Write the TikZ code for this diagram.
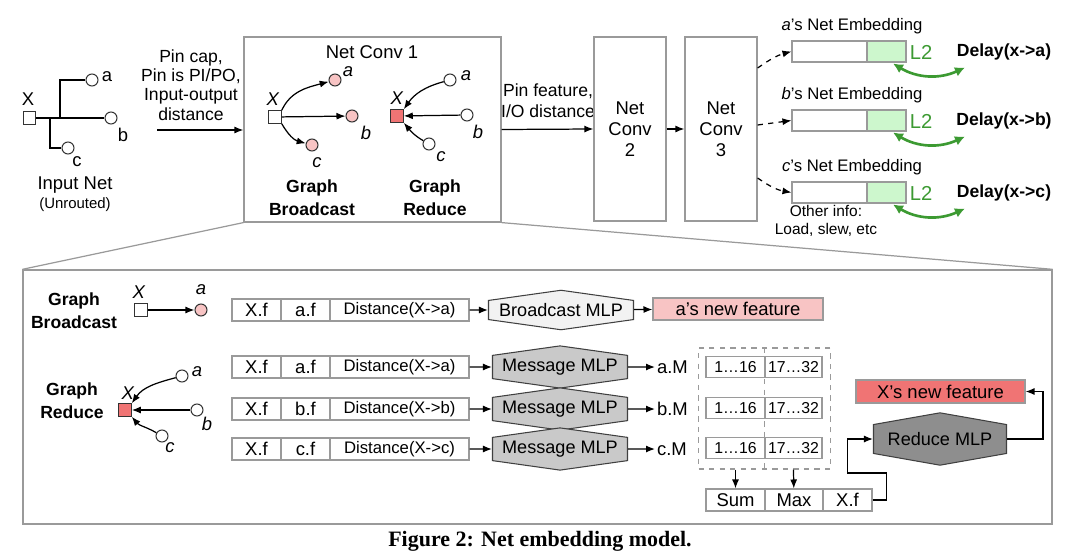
\documentclass[tikz,border=0pt]{standalone}
\usepackage{fontspec}
\setmainfont{Liberation Sans}
\newfontfamily\capfont{Liberation Serif}
\usepackage{tikz}
\usetikzlibrary{arrows.meta,positioning,shapes.symbols,calc}
\definecolor{boxline}{HTML}{9A9A9A}
\definecolor{pinkfill}{HTML}{F8C4C4}
\definecolor{redfill}{HTML}{F07474}
\definecolor{greenfill}{HTML}{CDF7CD}
\definecolor{greenline}{HTML}{3C9A32}
\definecolor{mlplight}{HTML}{F2F2F2}
\definecolor{mlpmid}{HTML}{C9C9C9}
\definecolor{mlpdark}{HTML}{8E8E8E}
\tikzset{
  nconv/.style={draw=boxline,line width=0.7pt,align=center,fill=white},
  ncell/.style={draw=boxline,fill=white,line width=0.6pt,minimum height=0.44cm,inner sep=1pt,font=\fontsize{10.5}{12}\selectfont},
  nsmall/.style={ncell,minimum height=0.42cm,font=\fontsize{9}{11}\selectfont},
  nmlp/.style={signal,signal to=north and south,signal pointer angle=164,draw=black!75,line width=0.6pt,inner sep=1pt,font=\fontsize{10.3}{12}\selectfont},
  npin/.style={circle,draw=black!80,fill=white,line width=0.6pt,minimum size=0.24cm,inner sep=0pt},
  nsq/.style={rectangle,draw=black!80,fill=white,line width=0.6pt,minimum size=0.25cm,inner sep=0pt},
  nlab/.style={inner sep=1pt,font=\fontsize{10.5}{12}\selectfont},
  nbold/.style={align=center,font=\bfseries\fontsize{10}{13}\selectfont},
  narr/.style={-{Latex[length=1.8mm,width=1.4mm]},line width=0.7pt},
  ndash/.style={-{Latex[length=1.8mm,width=1.4mm]},dashed,line width=0.7pt},
  ngreen/.style={{Latex[length=2mm,width=2mm]}-{Latex[length=2mm,width=2mm]},draw=greenline,line width=1.5pt}
}
\begin{document}
\begin{tikzpicture}[x=0.02cm,y=-0.02cm,font=\fontsize{10}{12}\selectfont]
  \useasboundingbox (0,0) rectangle (1080,558);
  % input net
  \node[nsq] (x0) at (29.5,118) {};
  \node[npin] (a0) at (92,80) {};
  \node[npin] (b0) at (111,118) {};
  \node[npin] (c0) at (68,148) {};
  \coordinate (j1) at (50,118);
  \coordinate (j2) at (60,118);
  \draw[line width=0.6pt] (x0.east) -- (b0.west);
  \draw[line width=0.6pt] (j1) |- (c0.west);
  \draw[line width=0.6pt] (j2) |- (a0.west);
  \node[nlab] (x0l) at (28,99) {X};
  \node[nlab] (a0l) at (107,77) {a};
  \node[nlab] (b0l) at (123,135) {b};
  \node[nlab] (c0l) at (77,162) {c};
  \node[nlab] (inet) at (75,185) {Input Net};
  \node[font=\fontsize{8.5}{10}\selectfont] (unr) at (75,205) {(Unrouted)};
  \node[align=center,font=\fontsize{10}{11}\selectfont] (pinf) at (191,85) {Pin cap,\\Pin is PI/PO,\\Input-output\\distance};
  \coordinate (pinin) at (157,130);
  % net conv 1
  \node[nconv,minimum width=5.14cm,minimum height=3.7cm] (conv1) at (372.5,129.5) {};
  \draw[narr] (pinin) -- (pinin -| conv1.west);
  \node[font=\fontsize{10.5}{12}\selectfont] (c1t) at (372,52) {Net Conv 1};
  \node[nsq] (xb) at (275,117) {};
  \node[npin,fill=pinkfill] (ab) at (335,80) {};
  \node[npin,fill=pinkfill] (bb) at (352,116) {};
  \node[npin,fill=pinkfill] (cb) at (312,145) {};
  \draw[narr] (xb.north east) to[out=65,in=195] (ab);
  \draw[narr] (xb) -- (bb);
  \draw[narr] (xb.south east) to[out=-60,in=165] (cb);
  \node[nlab] (xbl) at (273,99) {\textit{X}};
  \node[nlab] (abl) at (348,72) {\textit{a}};
  \node[nlab] (bbl) at (366,133) {\textit{b}};
  \node[nlab] (cbl) at (317,163) {\textit{c}};
  \node[nsq,fill=redfill] (xr) at (397,116) {};
  \node[npin] (ar) at (450,80) {};
  \node[npin] (br) at (467,115) {};
  \node[npin] (cr) at (429,144) {};
  \draw[narr] (ar) to[out=195,in=55] (xr.north east);
  \draw[narr] (br) -- (xr);
  \draw[narr] (cr) to[out=150,in=-50] (xr.south east);
  \node[nlab] (xrl) at (397,98) {\textit{X}};
  \node[nlab] (arl) at (466,76) {\textit{a}};
  \node[nlab] (brl) at (478,132) {\textit{b}};
  \node[nlab] (crl) at (441,157) {\textit{c}};
  \node[nbold] (gb) at (312,198) {Graph\\Broadcast};
  \node[nbold] (gr) at (435,198) {Graph\\Reduce};
  % net conv 2 and 3
  \node[align=center] (pfeat) at (548,101) {Pin feature,\\I/O distance};
  \node[nconv,minimum width=1.44cm,minimum height=3.68cm,font=\fontsize{10.5}{12}\selectfont] (conv2) at (630,129) {Net\\Conv\\2};
  \node[nconv,minimum width=1.44cm,minimum height=3.68cm,font=\fontsize{10.5}{12}\selectfont] (conv3) at (721,129) {Net\\Conv\\3};
  \draw[narr] (conv1.east) -- (conv2.west);
  \draw[narr] (conv2) -- (conv3);
  % net embeddings
  \foreach \nm/\y/\p in {ea/51.5/a, eb/120.5/b, ec/192.5/c}{
    \node[draw=boxline,fill=white,line width=0.6pt,minimum width=1.5cm,minimum height=0.42cm] (\nm) at (829.5,\y) {};
    \node[draw=boxline,fill=greenfill,line width=0.6pt,minimum width=0.78cm,minimum height=0.42cm] (\nm-g) at (886.5,\y) {};
    \node[font=\fontsize{9.5}{11}\selectfont] (\nm-t) at (852,\y-25) {\textit{\p}’s Net Embedding};
    \node[text=greenline,font=\fontsize{11.5}{13}\selectfont] (\nm-l) at (921,\y+1) {L2};
    \node[nbold] (\nm-d) at (1004,\y) {Delay(x->\p)};
    \coordinate (\nm-s) at (893,\y+12);
    \coordinate (\nm-e) at (965,\y+16);
    \draw[ngreen] (\nm-s) to[bend right=28] (\nm-e);
  }
  \draw[ndash] ([yshift=1.22cm]conv3.east) to[out=35,in=195] (ea.west);
  \draw[ndash] ([yshift=0.08cm]conv3.east) -- (eb.west);
  \draw[ndash] ([yshift=-0.98cm]conv3.east) to[out=-35,in=170] (ec.west);
  \node[align=center,font=\fontsize{8.8}{10.5}\selectfont] (oinfo) at (826,221) {Other info:\\Load, slew, etc};
  % zoomed view
  \node[draw=boxline,line width=0.8pt,minimum width=20.58cm,minimum height=5.08cm] (zoom) at (537.5,397) {};
  \draw[draw=boxline,line width=0.7pt] (conv1.south west) -- (zoom.north west);
  \draw[draw=boxline,line width=0.7pt] (conv1.south east) -- (zoom.north east);
  \node[nbold] (gb2) at (74,311) {Graph\\Broadcast};
  \node[nbold] (gr2) at (72,401) {Graph\\Reduce};
  \node[nsq] (xs) at (141,310) {};
  \node[npin,fill=pinkfill] (as) at (201,310) {};
  \draw[narr] (xs) -- (as);
  \node[nlab] (xsl) at (139,292) {\textit{X}};
  \node[nlab] (asl) at (201,290) {\textit{a}};
  \node[nsq,fill=redfill] (xq) at (125,410) {};
  \node[npin] (aq) at (182,376) {};
  \node[npin] (bq) at (197,410) {};
  \node[npin] (cq) at (162,436) {};
  \draw[narr] (aq) to[out=195,in=55] (xq.north east);
  \draw[narr] (bq) -- (xq);
  \draw[narr] (cq) to[out=150,in=-50] (xq.south east);
  \node[nlab] (xql) at (128,393) {\textit{X}};
  \node[nlab] (aql) at (197,372) {\textit{a}};
  \node[nlab] (bql) at (207,424) {\textit{b}};
  \node[nlab] (cql) at (170,448) {\textit{c}};
  \foreach \nm/\y/\p in {r0/310/a, r1/367/a, r2/409/b, r3/449/c}{
    \node[ncell,minimum width=0.98cm] (\nm-x) at (256.5,\y) {X.f};
    \node[ncell,minimum width=0.98cm] (\nm-p) at (305.5,\y) {\p.f};
    \node[ncell,minimum width=2.78cm,font=\fontsize{9.5}{11}\selectfont] (\nm-d) at (399.5,\y) {Distance(X->\p)};
  }
  \node[nmlp,fill=mlplight,minimum width=2.9cm,minimum height=0.74cm] (bmlp) at (561,310) {Broadcast MLP};
  \node[ncell,fill=pinkfill,minimum width=3.4cm] (anew) at (738,309) {a’s new feature};
  \draw[narr] (r0-d) -- (bmlp);
  \draw[narr] (bmlp) -- (anew);
  \foreach \i/\y/\p in {1/367/a, 2/409/b, 3/449/c}{
    \node[nmlp,fill=mlpmid,minimum width=2.7cm,minimum height=0.8cm] (m\i) at (560,\y) {Message MLP};
    \node[nlab,anchor=west] (msg\i) at (655,\y) {\p.M};
    \draw[narr] (r\i-d) -- (m\i);
    \draw[narr] (m\i) -- (msg\i);
  }
  \node[draw=boxline,dashed,line width=0.6pt,minimum width=2.64cm,minimum height=2.42cm] (dbox) at (764.5,408.5) {};
  \draw[draw=boxline,dashed,line width=0.6pt] (dbox.north) -- (dbox.south);
  \foreach \i/\y in {1/367, 2/408, 3/448}{
    \node[nsmall,minimum width=1.18cm] (lo\i) at (735.5,\y) {1…16};
    \node[nsmall,minimum width=1.14cm] (hi\i) at (793.5,\y) {17…32};
  }
  \node[ncell,minimum width=1.18cm] (sum) at (735.5,500) {Sum};
  \node[ncell,minimum width=1.16cm] (max) at (794,500) {Max};
  \node[ncell,minimum width=0.98cm] (xf) at (847.5,500) {X.f};
  \draw[narr] (lo3 |- dbox.south) -- (sum);
  \draw[narr] (hi3 |- dbox.south) -- (max);
  \node[nmlp,fill=mlpdark,signal pointer angle=160,minimum width=2.66cm,minimum height=0.96cm] (rmlp) at (940,439) {Reduce MLP};
  \node[ncell,fill=redfill,minimum width=3.38cm,minimum height=0.46cm] (xnew) at (940.5,391.5) {X’s new feature};
  \draw[narr] (xf.east) -- ++(14,0) -- ++(0,-27) -- ++(-39,0) |- (rmlp.west);
  \draw[narr] (rmlp.east) -- ++(36,0) |- (xnew.east);
  % caption
  \node[font=\capfont\bfseries\fontsize{12.5}{14}\selectfont] (cap) at (540,541) {Figure 2: Net embedding model.};
\end{tikzpicture}
\end{document}
